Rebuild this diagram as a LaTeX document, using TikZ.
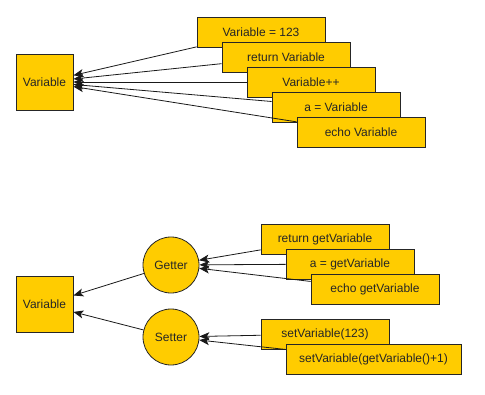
\documentclass[tikz,border=0pt]{standalone}
\usepackage{fontspec}
\setmainfont{Liberation Sans}
\usetikzlibrary{positioning, arrows.meta, calc}
\definecolor{amber}{RGB}{255,204,0}
\begin{document}
\begin{tikzpicture}[
  x=1pt, y=-1pt,
  >={Stealth[length=10pt, width=8pt, inset=2.5pt]},
  every node/.style={font=\fontsize{12}{14}\selectfont, text=black!85},
  base/.style = {draw=black!85, fill=amber, line width=0.8pt, inner sep=0pt},
  var/.style  = {base, minimum width=57pt, minimum height=56pt},
  stmt/.style = {base, minimum width=128pt, minimum height=30pt},
  acc/.style  = {base, circle, minimum size=56pt},
  arr/.style  = {->, line width=0.8pt, black!90},
]
  \useasboundingbox (0,0) rectangle (485,394);
  % direct access
  \node[var]  (var1) at (44.5,82) {Variable};
  \node[stmt] (s1)   at (261,32)  {Variable = 123};
  \node[stmt] (s2)   at (286,57)  {return Variable};
  \node[stmt] (s3)   at (311,82)  {Variable++};
  \node[stmt] (s4)   at (336,107) {a = Variable};
  \node[stmt] (s5)   at (361,132) {echo Variable};
  \foreach \a in {s1,s2,s3,s4,s5}\draw[arr](\a)--(var1);
  % access through getter / setter
  \node[var]  (var2) at (44.5,304.5) {Variable};
  \node[acc]  (get)  at (171,265) {Getter};
  \node[acc]  (set)  at (171,337) {Setter};
  \node[stmt] (g1)   at (325,239) {return getVariable};
  \node[stmt] (g2)   at (350,264) {a = getVariable};
  \node[stmt] (g3)   at (375,289) {echo getVariable};
  \node[stmt] (t1)   at (325,334) {setVariable(123)};
  \node[stmt, minimum width=175pt] (t2) at (373.5,359) {setVariable(getVariable()+1)};
  \foreach \a/\b in {get/var2,set/var2,g1/get,g2/get,g3/get,t1/set,t2/set}\draw[arr](\a)--(\b);
\end{tikzpicture}
\end{document}
